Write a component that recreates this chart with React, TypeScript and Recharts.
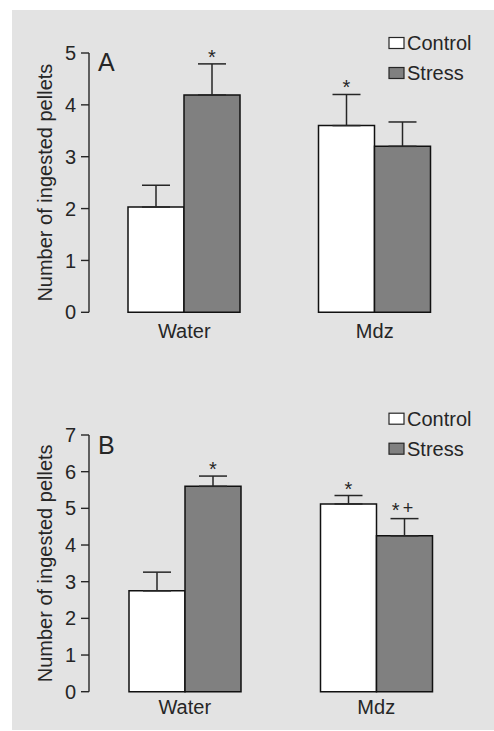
import { Bar, BarChart, Customized, ErrorBar, LabelList, XAxis, YAxis } from "recharts"

// groups on the x axis
const groups = ["Water", "Mdz"]
const seriesNames = ["Control", "Stress"]
const seriesFills = ["#ffffff", "#808080"]

// panel A: means, upward SEM, significance marks
const controlA = [2.03, 3.6]
const controlErrA = [0.42, 0.6]
const controlMarksA = ["", "*"]
const stressA = [4.19, 3.2]
const stressErrA = [0.6, 0.47]
const stressMarksA = ["*", ""]
const ticksA = [0, 1, 2, 3, 4, 5]

// panel B
const controlB = [2.75, 5.12]
const controlErrB = [0.51, 0.23]
const controlMarksB = ["", "*"]
const stressB = [5.6, 4.25]
const stressErrB = [0.28, 0.47]
const stressMarksB = ["*", "* +"]
const ticksB = [0, 1, 2, 3, 4, 5, 6, 7]

const FONT = "'Liberation Sans', Arial, sans-serif"
const INK = "#262626"

function buildRows(control: number[], controlErr: number[], stress: number[], stressErr: number[]) {
  return groups.map((g, i) => ({
    group: g,
    control: control[i],
    controlErr: [0, controlErr[i]],
    stress: stress[i],
    stressErr: [0, stressErr[i]],
  }))
}

// asterisks sit just above the top of each error bar
function markLabel(errs: number[], marks: string[]) {
  return (props: any) => {
    const { x, y, width, height, value, index } = props
    const mark = marks[index]
    if (!mark) return null
    const perUnit = Number(height) / Number(value)
    const top = Number(y) - errs[index] * perUnit
    const cx = Number(x) + Number(width) / 2
    const hasPlus = mark.includes("+")
    return (
      <text x={cx - (hasPlus ? 2 : 0)} y={top - (hasPlus ? 2 : 0)} textAnchor="middle" fontSize={20} fontFamily={FONT} fill={INK}>
        {hasPlus ? (
          <>
            <tspan>*</tspan>
            <tspan dx={3} dy={-3} fontSize={18}>+</tspan>
          </>
        ) : (
          mark
        )}
      </text>
    )
  }
}

function PanelExtras({ letter, letterY, legendY }: { letter: string; letterY: number; legendY: number }) {
  return (
    <g fontFamily={FONT} fill={INK}>
      <text x={98} y={letterY} fontSize={25}>
        {letter}
      </text>
      {seriesNames.map((name, i) => (
        <g key={name}>
          <rect x={389} y={legendY + i * 30 - 12.5} width={15} height={11} fill={seriesFills[i]} stroke={INK} strokeWidth={1.2} />
          <text x={407} y={legendY + i * 30} fontSize={20}>
            {name}
          </text>
        </g>
      ))}
    </g>
  )
}

function yLabel(props: any) {
  const { viewBox } = props
  const x = viewBox.x + 23
  const y = viewBox.y + viewBox.height / 2
  return (
    <text x={x} y={y} transform={`rotate(-90, ${x}, ${y})`} textAnchor="middle" fontSize={20} fontFamily={FONT} fill={INK}>
      Number of ingested pellets
    </text>
  )
}

interface PanelProps {
  rows: ReturnType<typeof buildRows>
  ticks: number[]
  height: number
  margin: { top: number; right: number; left: number; bottom: number }
  xTickMargin: number
  letter: string
  letterY: number
  legendY: number
  controlErr: number[]
  controlMarks: string[]
  stressErr: number[]
  stressMarks: string[]
}

function Panel(p: PanelProps) {
  return (
    <BarChart width={494} height={p.height} data={p.rows} margin={p.margin} barGap={0} barSize={56}>
      <XAxis
        dataKey="group"
        axisLine={false}
        tickLine={false}
        tickSize={0}
        tickMargin={p.xTickMargin}
        height={30}
        tick={{ fontSize: 20, fontFamily: FONT, fill: INK }}
      />
      <YAxis
        type="number"
        domain={[0, p.ticks[p.ticks.length - 1]]}
        ticks={p.ticks}
        interval={0}
        width={60}
        tickSize={8}
        tickMargin={5}
        axisLine={{ stroke: INK, strokeWidth: 1.4 }}
        tickLine={{ stroke: INK, strokeWidth: 1.4 }}
        tick={{ fontSize: 20, fontFamily: FONT, fill: INK }}
        label={{ content: yLabel }}
      />
      <Bar dataKey="control" fill={seriesFills[0]} stroke="#111" strokeWidth={1.5} isAnimationActive={false}>
        <ErrorBar dataKey="controlErr" width={14} stroke={INK} strokeWidth={1.5} direction="y" />
        <LabelList dataKey="control" content={markLabel(p.controlErr, p.controlMarks)} />
      </Bar>
      <Bar dataKey="stress" fill={seriesFills[1]} stroke="#111" strokeWidth={1.5} isAnimationActive={false}>
        <ErrorBar dataKey="stressErr" width={14} stroke={INK} strokeWidth={1.5} direction="y" />
        <LabelList dataKey="stress" content={markLabel(p.stressErr, p.stressMarks)} />
      </Bar>
      <Customized component={() => <PanelExtras letter={p.letter} letterY={p.letterY} legendY={p.legendY} />} />
    </BarChart>
  )
}

export default function App() {
  const rowsA = buildRows(controlA, controlErrA, stressA, stressErrA)
  const rowsB = buildRows(controlB, controlErrB, stressB, stressErrB)
  return (
    <div style={{ position: "absolute", left: 0, top: 0, width: 494, height: 731, background: "#fff" }}>
      <div style={{ position: "absolute", left: 12, top: 10, width: 482, height: 720, background: "#e3e3e3" }} />
      <div style={{ position: "absolute", left: 0, top: 0 }}>
        <Panel
          rows={rowsA}
          ticks={ticksA}
          height={360}
          margin={{ top: 53, right: 24, left: 29, bottom: 17.7 }}
          xTickMargin={11}
          letter="A"
          letterY={71}
          legendY={50}
          controlErr={controlErrA}
          controlMarks={controlMarksA}
          stressErr={stressErrA}
          stressMarks={stressMarksA}
        />
      </div>
      <div style={{ position: "absolute", left: 0, top: 360 }}>
        <Panel
          rows={rowsB}
          ticks={ticksB}
          height={371}
          margin={{ top: 75, right: 22, left: 29, bottom: 9.3 }}
          xTickMargin={8}
          letter="B"
          letterY={93.5}
          legendY={65.7}
          controlErr={controlErrB}
          controlMarks={controlMarksB}
          stressErr={stressErrB}
          stressMarks={stressMarksB}
        />
      </div>
    </div>
  )
}
